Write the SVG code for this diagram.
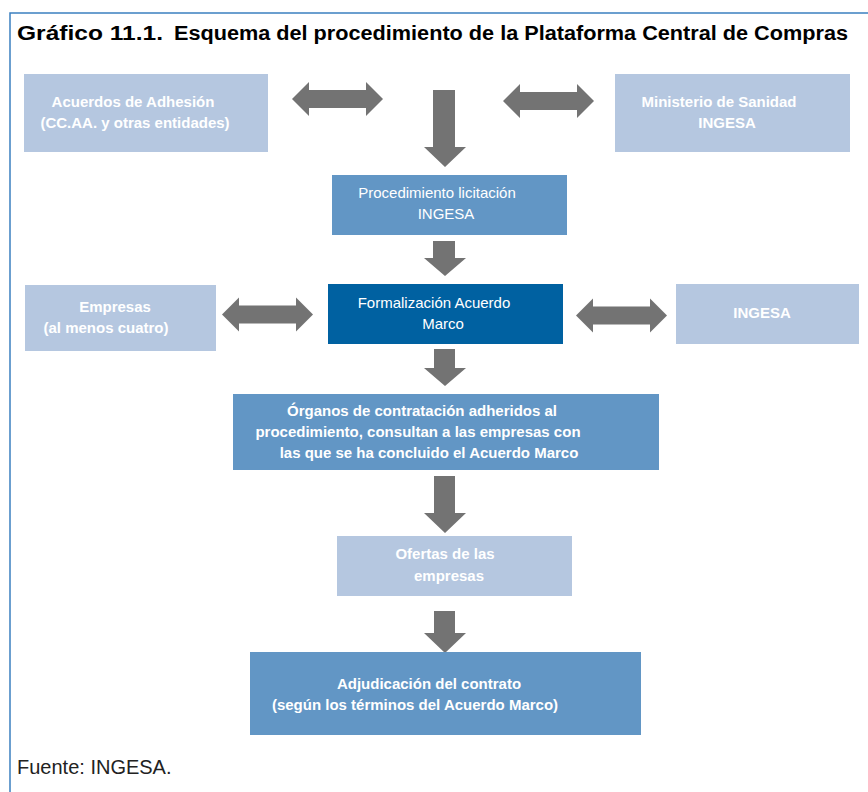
<svg xmlns="http://www.w3.org/2000/svg" xmlns:xlink="http://www.w3.org/1999/xlink" width="868" height="792" viewBox="0 0 868 792">
<style>
.light{fill:#b5c7e0}
.mid{fill:#6296c5}
.dark{fill:#0061a1}
.arrow{fill:#737373}
.tb{font-family:"Liberation Sans",Arial,sans-serif;font-weight:bold;font-size:15px;fill:#ffffff;text-anchor:middle}
.tr{font-family:"Liberation Sans",Arial,sans-serif;font-size:15px;fill:#ffffff;text-anchor:middle}
.title{font-family:"Liberation Sans",Arial,sans-serif;font-weight:bold;font-size:20px;fill:#000000}
.src{font-family:"Liberation Sans",Arial,sans-serif;font-size:20px;fill:#222222}
</style>
<defs>
<path id="darr" d="M0,0 L17,-17 L17,-9 L74,-9 L74,-17 L91,0 L74,17 L74,9 L17,9 L17,17 Z"/>
</defs>
<rect width="868" height="792" fill="#ffffff"/>
<path d="M10,792 L10,13 L868,13" fill="none" stroke="#3b80c0" stroke-width="1.5"/>
<text class="title" x="17" y="40" textLength="146" lengthAdjust="spacingAndGlyphs" style="font-weight:900">Gráfico 11.1.</text>
<text class="title" x="174" y="40" textLength="674" lengthAdjust="spacingAndGlyphs">Esquema del procedimiento de la Plataforma Central de Compras</text>

<g id="connectors" class="arrow">
<path d="M433,90 L455,90 L455,147 L466,147 L445,167 L424,147 L433,147 Z"/>
<path d="M433,241 L455,241 L455,258 L466,258 L445,276 L424,258 L433,258 Z"/>
<path d="M434,349 L455,349 L455,368 L466,368 L445,386 L424,368 L434,368 Z"/>
<path d="M434,476 L455,476 L455,513 L466,513 L445,533 L424,513 L434,513 Z"/>
<path d="M434,611 L455,611 L455,633 L466,633 L445,653 L424,633 L434,633 Z"/>
<use xlink:href="#darr" href="#darr" transform="translate(292,99)"/>
<use xlink:href="#darr" href="#darr" transform="translate(503,101)"/>
<use xlink:href="#darr" href="#darr" transform="translate(222,314.5)"/>
<use xlink:href="#darr" href="#darr" transform="translate(576,315.5)"/>
</g>

<g id="acuerdos">
<rect class="light" x="24" y="74" width="244" height="78"/>
<text class="tb" x="133" y="107">Acuerdos de Adhesión</text>
<text class="tb" x="135" y="128">(CC.AA. y otras entidades)</text>
</g>
<g id="ministerio">
<rect class="light" x="615" y="74" width="235" height="78"/>
<text class="tb" x="719" y="107">Ministerio de Sanidad</text>
<text class="tb" x="727" y="128">INGESA</text>
</g>
<g id="procedimiento">
<rect class="mid" x="332" y="175" width="235" height="60"/>
<text class="tr" x="437" y="198">Procedimiento licitación</text>
<text class="tr" x="446" y="219">INGESA</text>
</g>
<g id="formalizacion">
<rect class="dark" x="328" y="284" width="235" height="60"/>
<text class="tr" x="434" y="308">Formalización Acuerdo</text>
<text class="tr" x="443" y="329">Marco</text>
</g>
<g id="empresas">
<rect class="light" x="25" y="285" width="191" height="66"/>
<text class="tb" x="115" y="312">Empresas</text>
<text class="tb" x="106" y="333">(al menos cuatro)</text>
</g>
<g id="ingesa">
<rect class="light" x="676" y="284" width="183" height="60"/>
<text class="tb" x="762" y="318">INGESA</text>
</g>
<g id="organos">
<rect class="mid" x="233" y="394" width="426" height="76"/>
<text class="tb" x="422" y="416">Órganos de contratación adheridos al</text>
<text class="tb" x="418" y="437">procedimiento, consultan a las empresas con</text>
<text class="tb" x="429" y="458">las que se ha concluido el Acuerdo Marco</text>
</g>
<g id="ofertas">
<rect class="light" x="337" y="536" width="235" height="60"/>
<text class="tb" x="445" y="559">Ofertas de las</text>
<text class="tb" x="449" y="581">empresas</text>
</g>
<g id="adjudicacion">
<rect class="mid" x="250" y="652" width="391" height="83"/>
<text class="tb" x="429" y="689">Adjudicación del contrato</text>
<text class="tb" x="415" y="710">(según los términos del Acuerdo Marco)</text>
</g>
<text class="src" x="17" y="774">Fuente: INGESA.</text>
</svg>
